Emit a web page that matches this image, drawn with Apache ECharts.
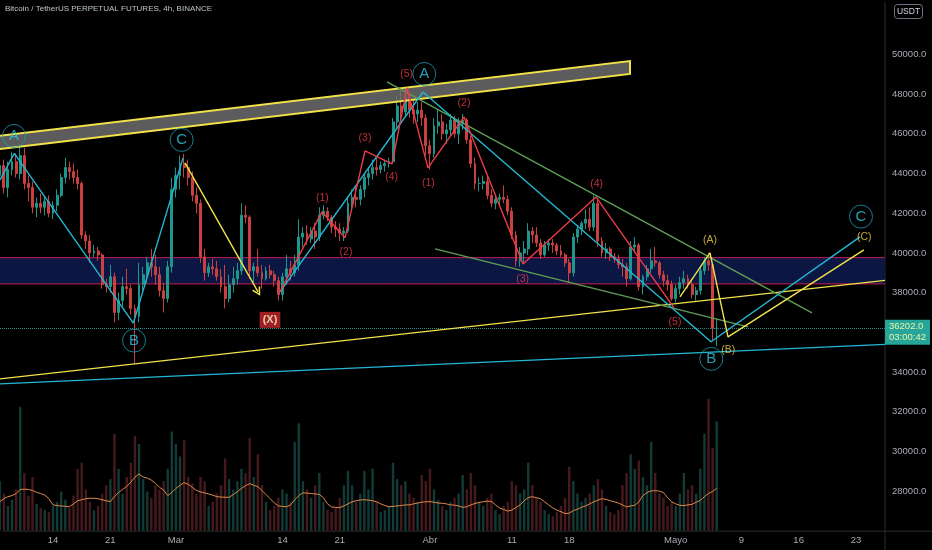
<!DOCTYPE html>
<html><head><meta charset="utf-8">
<script src="https://cdn.jsdelivr.net/npm/echarts@6/dist/echarts.min.js"></script>
<style>html,body{margin:0;padding:0;background:#000;}#c{width:932px;height:550px;}</style>
</head><body><div id="c"></div>
<script>
// ---------- DATA ----------
const titleText = 'Bitcoin / TetherUS PERPETUAL FUTURES, 4h, BINANCE';
const firstCandle = '2022-02-07T12:00:00Z';
const candleHours = 12;
const open = [
43900,44400,43300,44200,44600,44000,44900,43500,43300,42300,
42500,42300,42600,42000,42400,42900,43800,44300,44100,43800,
43500,40900,40600,40000,40100,39900,38400,38300,38800,37000,
37600,38300,38200,37200,36800,38400,38900,39500,39300,38900,
38100,37700,39300,43200,43900,44500,44300,43800,42900,42500,
39800,39000,39300,39200,38800,38300,37700,38400,38700,39100,
41900,41800,39100,39300,39000,38700,39100,38900,38600,37900,
38800,39200,39000,39400,40800,41000,40700,41100,40800,41900,
42100,41800,41300,41200,41000,41100,42500,42800,42700,43200,
43800,44000,44300,44200,44400,44500,44600,46600,47400,47100,
47800,47200,47000,47200,46800,45400,45000,46400,46600,46000,
46200,46700,46000,46500,46700,45700,44500,43500,43500,43600,
42900,42500,42700,42800,42700,42100,40900,39600,40000,40200,
41100,40900,40500,39900,40400,40500,40400,40100,39900,39500,
39000,40800,41200,41500,41700,41300,42500,40600,40000,40200,
39800,39700,39400,39300,38700,40300,40400,38300,38800,39200,
39600,39500,38900,38600,38400,37700,38200,38500,38700,38400,
37900,38100,39100,39600,39400,36200];
const high = [
44800,44700,44600,45100,45000,45400,45300,43900,43600,42800,
43000,42800,42900,42600,43200,44000,44800,44600,44500,44200,
43600,41100,40900,40400,40300,40000,38700,39400,39000,38000,
38800,39200,38400,37400,39500,39300,39800,40200,39900,39300,
38500,39600,43800,44300,44900,45000,44700,44100,43300,42700,
40200,39500,39700,39600,39200,39400,38900,39300,39500,42500,
42400,41900,39500,40200,39400,39300,39400,39100,38800,39000,
39900,39600,39900,41700,41300,41400,41300,41500,42300,42400,
42300,41900,41600,41500,41300,42800,43200,43300,43400,44000,
44300,44700,44800,44600,44700,44800,46800,47900,48200,48300,
48000,47700,47600,47600,47000,45700,46800,47200,47000,46500,
47000,46900,46800,47000,46800,45900,44800,43800,43900,43900,
43200,42900,43000,43400,42900,42300,41100,40300,40600,41500,
41300,41300,40700,40600,40700,40700,40500,40400,40000,39700,
41000,41400,41600,42200,42300,42900,42700,40800,40500,40300,
40000,39900,39700,39500,40600,40800,40500,38900,39400,40200,
40300,39600,39100,38900,38600,38400,38800,39100,38900,38700,
38300,39300,39800,40000,39500,36700];
const low = [
43200,43000,42800,43900,43800,43700,43200,42600,42000,41800,
42000,41900,41800,41700,42100,42800,43500,43700,43500,43200,
40700,40200,39500,39800,39600,38200,38000,38000,36500,36600,
37300,37900,36900,34400,36500,38100,38500,38800,38400,37800,
37000,37500,39000,42800,43200,43800,43400,42600,42000,39500,
38600,38800,38900,38600,38000,37200,37500,38000,38400,38900,
41500,38700,38500,38800,38200,38600,38700,38300,37600,37600,
38400,38600,38800,39100,40300,40400,40500,40200,40600,41700,
41600,41000,40800,40600,40600,41000,42100,42300,42400,42800,
43400,43700,43900,44000,44100,44300,44500,46300,46700,46900,
46800,46500,46600,46400,44900,44200,44800,46000,45700,45500,
45900,45800,45500,46200,45500,44300,43200,43100,43200,42700,
42300,42200,42400,42500,41900,40700,39300,39300,39500,39900,
40500,40300,39700,39800,40100,40000,39900,39800,39300,38500,
38800,40500,40900,41200,41100,41100,40300,39800,39700,39600,
39500,39200,38800,38300,38600,40000,38100,37900,38600,39000,
39300,38700,38300,38100,37600,37500,37900,38200,38200,37700,
37600,37900,38900,39100,35600,35300];
const close = [
44400,43300,44200,44600,44000,44900,43500,43300,42300,42500,
42300,42600,42000,42400,42900,43800,44300,44100,43800,43500,
40900,40600,40000,40100,39900,38400,38300,38800,37000,37600,
38300,38200,37200,36800,38400,38900,39500,39300,38900,38100,
37700,39300,43200,43900,44500,44300,43800,42900,42500,39800,
39000,39300,39200,38800,38300,37700,38400,38700,39100,41900,
41800,39100,39300,39000,38700,39100,38900,38600,37900,38800,
39200,39000,39400,40800,41000,40700,41100,40800,41900,42100,
41800,41300,41200,41000,41100,42500,42800,42700,43200,43800,
44000,44300,44200,44400,44500,44600,46600,47400,47100,47800,
47200,47000,47200,46800,45400,45000,46400,46600,46000,46200,
46700,46000,46500,46700,45700,44500,43500,43500,43600,42900,
42500,42700,42800,42700,42100,40900,39600,40000,40200,41100,
40900,40500,39900,40400,40500,40400,40100,39900,39500,39000,
40800,41200,41500,41700,41300,42500,40600,40000,40200,39800,
39700,39400,39300,38700,40300,40400,38300,38800,39200,39600,
39500,38900,38600,38400,37700,38200,38500,38700,38400,37900,
38100,39100,39600,39400,36200,36202];
const volume = [
24,18,12,15,20,60,28,17,26,13,
11,10,9,12,14,19,15,11,17,30,
33,20,14,10,12,18,22,25,47,30,
18,26,33,46,42,25,19,16,22,20,
24,30,48,42,36,44,26,23,18,26,
24,12,14,18,22,35,25,20,24,30,
28,45,26,37,22,14,10,12,16,20,
18,14,43,52,24,20,16,22,28,14,
10,9,11,16,22,29,22,14,18,29,
20,30,14,9,10,12,33,25,22,24,
18,16,14,27,24,30,20,15,12,10,
14,16,18,27,20,28,22,14,12,16,
18,10,8,12,14,24,22,18,20,33,
22,16,14,10,8,7,9,12,16,31,
24,18,14,16,18,22,25,20,12,9,
8,10,22,28,37,30,34,26,22,43,
28,18,16,12,14,12,18,28,20,22,
18,30,47,64,40,53];
const volumeMA = [
14.1,15.5,16.5,17,18,20,20.1,20,19.5,18.6,
18,17.3,15.5,12.5,12.2,12,11.8,11.6,13,14.5,
15,15.5,15.7,15.7,15.5,15,14.5,14.1,16.5,18.5,
20,21.5,23.5,26,27.5,26,25.5,24.5,23,21,
19.7,17,18.5,20.5,22,23.3,22.5,21,19.5,18.8,
18.3,17.8,17.2,16.5,16.3,16.2,16.2,17.5,18.9,20.5,
21.8,22.8,22,21.3,19.5,17.5,15.5,13.5,12,11.8,
11.6,12.5,15,17,18.4,18.2,18,17.8,17.6,16,
13,11.5,11.3,11.2,12,13,14,14.5,14.9,15,
14.8,14.5,14,13,12.2,11.6,11.8,12,12.2,12.5,
12.5,13,13.4,13.8,14,14.1,13.8,13.4,13.3,13,
12.5,12.4,12,11.3,11.6,12.5,13.2,13.7,14,14.3,
14.2,12.5,11,10.3,9.5,10,11.2,12.5,14.5,16,
16.5,16,15.5,14,12.5,11,10,9.2,8.3,8.5,
9.7,10.4,11.3,12,13,14,14.8,15.5,15.2,14.5,
14,13.4,12.5,11.5,12,12.3,14,17,18.5,19.3,
19.4,19.2,18.5,16,14,13,12.3,12.2,12.5,12.8,
13.8,14.7,16.5,18.1,19,20.5];
const lastPrice = 36202;
const countdown = '03:00:42';

// x-axis tick labels
const tickDates = ['2022-02-14','2022-02-21','2022-03-01','2022-03-14','2022-03-21','2022-04-01',
                   '2022-04-11','2022-04-18','2022-05-01','2022-05-09','2022-05-16','2022-05-23'];
const tickLabels = ['14','21','Mar','14','21','Abr','11','18','Mayo','9','16','23'];

// annotation points: [days after 2022-02-14 00:00 UTC, price]
const refDate = '2022-02-14T00:00:00Z';
const viewStartDay = -6.47, viewEndDay = 101.54;
const priceMin = 26000, priceMax = 52000, priceStep = 2000;
const zoneTop = 39760, zoneBottom = 38440;
const bandUpper = [[-7.5, 45850], [70.42, 49670]];
const bandLower = [[-7.5, 45190], [70.42, 49020]];
const cyanWave1 = [[-6.47, 43680], [-4.72, 45020], [9.80, 36460], [15.87, 44790]];
const cyanWave2 = [[27.70, 38035], [45.15, 48110], [80.30, 35520], [98.49, 40810]];
const cyanBase = [[-6.47, 33400], [101.54, 35390]];
const yellowBase = [[-6.47, 33650], [101.54, 38615]];
const greenUpper = [[40.76, 48615], [92.63, 36977]];
const greenLower = [[46.62, 40202], [84.82, 36272]];
const redWaves = [[27.70, 38035], [32.83, 42066], [35.64, 40756], [38.08, 45139], [41.37, 44484],
                  [43.20, 48313], [45.76, 44282], [50.16, 46852], [57.36, 39446], [66.27, 42821], [75.79, 37229]];
const yellowWaves = [[76.52, 37783], [80.18, 40000], [82.38, 35768], [98.97, 40151]];
const yellowArrow = [[16.11, 44534], [25.02, 38035]];
const circleLabels = [['A', -4.76, 45894], ['B', 9.89, 35582], ['C', 15.70, 45693],
                      ['A', 45.31, 49018], ['B', 80.34, 34660], ['C', 98.61, 41829]];
const redLabels = [['(1)', 32.87, 42786], ['(2)', 35.76, 40017], ['(3)', 38.08, 45779], ['(4)', 41.33, 43814],
                   ['(5)', 43.16, 49018], ['(1)', 45.81, 43542], ['(2)', 50.16, 47542], ['(3)', 57.32, 38690],
                   ['(4)', 66.35, 43476], ['(5)', 75.91, 36489]];
const yellowLabels = [['(A)', 80.18, 40655], ['(B)', 82.41, 35113], ['(C)', 99.01, 40791]];
const xLabel = ['(X)', 26.48, 36625];

// ---------- BUILD (x axis in days after refDate) ----------
const H = 3600000, DAY = 24 * H;
const T0 = Date.parse(refDate);
const dayOf = s => (Date.parse(s) - T0) / DAY;
const pts = arr => arr.map(q => [q[0], q[1]]);
const d0 = dayOf(firstCandle);
const days = open.map((_, i) => d0 + i * candleHours / 24);
const candles = days.map((t, i) => [t, open[i], close[i], low[i], high[i]]);
const vols = days.map((t, i) => [t, volume[i]]);
const mas = days.map((t, i) => [t, volumeMA[i]]);
const tickDays = tickDates.map(s => dayOf(s + 'T00:00:00Z'));

const FONT = 'Liberation Sans, Arial, sans-serif';
const UP = '#1f968b', DOWN = '#c8403f';
const CYAN = '#22b8d4', RED = '#ee3b48', GREEN = '#5d9f55', YEL = '#f2e24a', GOLD = '#f0cf48';
const AXIS = '#2c2c2c';

function polygonSeries(poly, style, z) {
  return {
    type: 'custom', z: z, silent: true, clip: true,
    data: [[0, 40000]],
    renderItem: function (params, api) {
      return { type: 'polygon', shape: { points: poly.map(q => api.coord([q[0], q[1]])) }, style: style };
    }
  };
}
function lineSeries(arr, color, width, z) {
  return { type: 'line', data: pts(arr), symbol: 'none', z: z, silent: true,
           lineStyle: { color: color, width: width } };
}
function textSeries(list, color, size, z, extra) {
  return {
    type: 'scatter', z: z, silent: true, symbolSize: 1,
    itemStyle: { color: 'rgba(0,0,0,0)' },
    data: list.map(l => [l[1], l[2]]),
    label: Object.assign({ show: true, position: 'inside', color: color, fontSize: size, fontFamily: FONT,
      formatter: p => list[p.dataIndex][0] }, extra || {})
  };
}

const bandPoly = [bandUpper[0], bandUpper[1], bandLower[1], bandLower[0]];
const zonePoly = [[viewStartDay, zoneTop], [viewEndDay, zoneTop], [viewEndDay, zoneBottom], [viewStartDay, zoneBottom]];
const chevron = 'path://M5,0 L10,9 L8.6,10 L5,3.4 L1.4,10 L0,9 Z';

const option = {
  backgroundColor: '#000',
  animation: false,
  title: { text: titleText, left: 5, top: 5, padding: 0,
    textStyle: { color: '#bccabc', fontSize: 8, fontWeight: 'normal', fontFamily: FONT } },
  grid: { left: 0, right: 47, top: 14.8, bottom: 19.3, containLabel: false },
  xAxis: {
    type: 'value', min: viewStartDay, max: viewEndDay, scale: true,
    axisLine: { show: false, onZero: false },
    axisTick: { show: false }, splitLine: { show: false },
    axisLabel: {
      customValues: tickDays, color: '#a9acb4', fontSize: 9.5, fontFamily: FONT, margin: 5, hideOverlap: false,
      formatter: function (v) {
        for (let i = 0; i < tickDays.length; i++) if (Math.abs(tickDays[i] - v) < 0.01) return tickLabels[i];
        return '';
      }
    }
  },
  yAxis: [
    { type: 'value', position: 'right', min: priceMin, max: priceMax, interval: priceStep,
      axisLine: { show: false, onZero: false }, axisTick: { show: false }, splitLine: { show: false },
      axisLabel: { color: '#a9acb4', fontSize: 9.5, fontFamily: FONT, margin: 7, showMinLabel: false, showMaxLabel: false,
        formatter: v => v.toFixed(1) } },
    { type: 'value', min: 0, max: 250, show: false, axisLine: { onZero: false } }
  ],
  graphic: [
    { type: 'line', left: 882.5, top: 0, silent: true, shape: { x1: 0.5, y1: 0, x2: 0.5, y2: 550 }, style: { stroke: AXIS, lineWidth: 1 }, z: 0 },
    { type: 'line', left: 0, bottom: 16.3, silent: true, shape: { x1: 0, y1: 0.5, x2: 932, y2: 0.5 }, style: { stroke: AXIS, lineWidth: 1 }, z: 0 },
    { type: 'group', right: 9, top: 4, children: [
      { type: 'rect', shape: { x: 0, y: 0, width: 28, height: 14, r: 3 }, style: { fill: '#000', stroke: '#6e7280', lineWidth: 1 } },
      { type: 'text', style: { x: 14, y: 7, text: 'USDT', fill: '#d1d4dc', font: '8.5px ' + FONT, align: 'center', verticalAlign: 'middle' } }
    ] }
  ],
  series: [
    polygonSeries(zonePoly, { fill: '#0b1742' }, 1),
    lineSeries([[viewStartDay, zoneTop], [viewEndDay, zoneTop]], '#c41e5a', 1, 2),
    lineSeries([[viewStartDay, zoneBottom], [viewEndDay, zoneBottom]], '#c41e5a', 1, 2),
    { type: 'bar', yAxisIndex: 1, data: vols, barWidth: 2.4, z: 2, silent: true,
      itemStyle: { color: p => close[p.dataIndex] >= open[p.dataIndex] ? '#123a36' : '#461a1d' } },
    { type: 'line', yAxisIndex: 1, data: mas, symbol: 'none', z: 3, silent: true,
      lineStyle: { color: '#e0894a', width: 1 } },
    { type: 'candlestick', data: candles, barWidth: 2.4, z: 4, silent: true,
      itemStyle: { color: UP, color0: DOWN, borderColor: UP, borderColor0: DOWN, borderWidth: 1 },
      markLine: { silent: true, symbol: ['none', 'none'],
        lineStyle: { type: 'dotted', color: '#2a8f86', width: 1 },
        label: { show: true, position: 'end', distance: 0, offset: [0, 4], formatter: lastPrice.toFixed(1) + '\n' + countdown,
          backgroundColor: '#26a69a', color: '#eef3a8', fontSize: 9.5, lineHeight: 11, padding: [2, 4, 1, 4], fontFamily: FONT },
        data: [{ yAxis: lastPrice }] } },
    polygonSeries(bandPoly, { fill: 'rgba(115,115,115,0.8)', stroke: YEL, lineWidth: 2 }, 5),
    lineSeries(yellowBase, YEL, 1.4, 6),
    lineSeries(cyanBase, CYAN, 1.4, 6),
    lineSeries(greenUpper, GREEN, 1.4, 6),
    lineSeries(greenLower, GREEN, 1.4, 6),
    lineSeries(cyanWave1, CYAN, 1.4, 7),
    lineSeries(cyanWave2, CYAN, 1.4, 7),
    lineSeries(redWaves, RED, 1.4, 7),
    Object.assign(lineSeries(yellowWaves, YEL, 1.4, 7), {
      markLine: { silent: true, symbol: ['none', chevron], symbolSize: [9, 9],
        lineStyle: { color: YEL, width: 1.4, type: 'solid' }, label: { show: false },
        data: [[{ coord: yellowArrow[0] }, { coord: yellowArrow[1] }]] }
    }),
    { type: 'scatter', z: 8, silent: true, symbol: 'circle', symbolSize: 23,
      itemStyle: { color: 'rgba(0,0,0,0)', borderColor: '#1e9cb2', borderWidth: 1 },
      data: circleLabels.map(l => [l[1], l[2]]),
      label: { show: true, position: 'inside', color: '#2ec6e2', fontSize: 15, fontFamily: FONT,
        formatter: p => circleLabels[p.dataIndex][0] } },
    textSeries(redLabels, RED, 10.5, 8),
    textSeries(yellowLabels, GOLD, 10.5, 8),
    textSeries([xLabel], '#fff1c0', 11, 8, { backgroundColor: '#c62830', padding: [3, 3, 2, 3], fontWeight: 'bold' })
  ]
};
const chart = echarts.init(document.getElementById('c'));
chart.setOption(option);
</script></body></html>
